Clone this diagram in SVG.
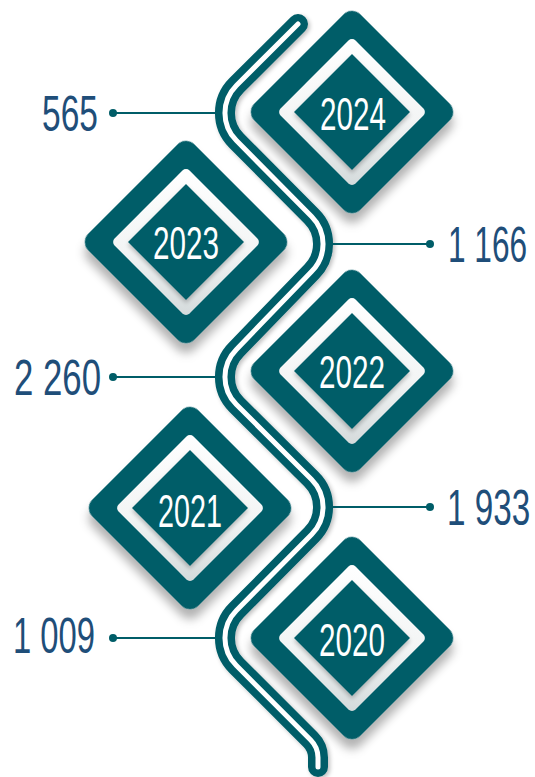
<svg xmlns="http://www.w3.org/2000/svg" width="535" height="777" viewBox="0 0 535 777">
<defs>
  <linearGradient id="fg" x1="0" y1="0" x2="1" y2="1">
    <stop offset="0" stop-color="#ffffff"/>
    <stop offset="0.55" stop-color="#f3f5f5"/>
    <stop offset="1" stop-color="#d4dadb"/>
  </linearGradient>
  <filter id="sh" x="-30%" y="-30%" width="170%" height="170%">
    <feGaussianBlur in="SourceAlpha" stdDeviation="5"/>
    <feOffset dx="7" dy="7" result="b"/>
    <feFlood flood-color="#000" flood-opacity="0.3"/>
    <feComposite in2="b" operator="in"/>
    <feMerge><feMergeNode/><feMergeNode in="SourceGraphic"/></feMerge>
  </filter>
  <filter id="sh2" x="-20%" y="-20%" width="140%" height="140%">
    <feGaussianBlur in="SourceAlpha" stdDeviation="2"/>
    <feOffset dx="2" dy="2" result="b"/>
    <feFlood flood-color="#000" flood-opacity="0.25"/>
    <feComposite in2="b" operator="in"/>
    <feMerge><feMergeNode/><feMergeNode in="SourceGraphic"/></feMerge>
  </filter>
  <path id="tubePath" d="M298,24 L236.4,85.4 A39,39 0 0 0 236.4,140.6 L311.6,216.4 A39,39 0 0 1 311.6,271.6 L236.4,349.4 A39,39 0 0 0 236.4,404.6 L311.6,479.4 A39,39 0 0 1 311.6,534.6 L236.4,610.4 A39,39 0 0 0 236.4,665.6 L310.7,739.9 A25,25 0 0 1 318,757.6 L318,767"/>
</defs>
<style>
  .outer { fill: #005d68; }
  .frame { fill: url(#fg); }
  .inner { fill: #005d68; }
  .year { font-family: "Liberation Sans", Arial, sans-serif; font-size: 46px; fill: #ffffff; text-anchor: middle; }
  .num { font-family: "Liberation Sans", Arial, sans-serif; font-size: 50px; fill: #1f4e79; }
  .conn line { stroke: #005d68; stroke-width: 1.8; }
  .conn circle { fill: #005d68; }
</style>
<rect width="535" height="777" fill="#ffffff"/>

<g id="timeline">
  <use href="#tubePath" fill="none" stroke="#005d68" stroke-width="20" stroke-linecap="round" stroke-linejoin="round" filter="url(#sh2)"/>
  <use href="#tubePath" fill="none" stroke="#ffffff" stroke-width="5" stroke-linecap="round" stroke-linejoin="round"/>
</g>

<g id="connectors" class="conn">
  <line x1="113" y1="113" x2="217" y2="113"/><circle cx="113" cy="113" r="4"/>
  <line x1="331" y1="244" x2="430" y2="244"/><circle cx="430" cy="244" r="4"/>
  <line x1="113" y1="377" x2="217" y2="377"/><circle cx="113" cy="377" r="4"/>
  <line x1="331" y1="507" x2="430" y2="507"/><circle cx="430" cy="507" r="4"/>
  <line x1="113" y1="638" x2="217" y2="638"/><circle cx="113" cy="638" r="4"/>
</g>

<g id="node-2024" transform="translate(352,112)">
  <rect class="outer" x="-75" y="-75" width="150" height="150" rx="12" transform="rotate(45)" filter="url(#sh)"/>
  <rect class="frame" x="-53" y="-53" width="106" height="106" rx="5" transform="rotate(45)"/>
  <rect class="inner" x="-41" y="-41" width="82" height="82" transform="rotate(45)" filter="url(#sh2)"/>
  <text class="year" x="1" y="18" textLength="66" lengthAdjust="spacingAndGlyphs">2024</text>
</g>
<g id="node-2023" transform="translate(186,242)">
  <rect class="outer" x="-75" y="-75" width="150" height="150" rx="12" transform="rotate(45)" filter="url(#sh)"/>
  <rect class="frame" x="-53" y="-53" width="106" height="106" rx="5" transform="rotate(45)"/>
  <rect class="inner" x="-41" y="-41" width="82" height="82" transform="rotate(45)" filter="url(#sh2)"/>
  <text class="year" x="0" y="17" textLength="66" lengthAdjust="spacingAndGlyphs">2023</text>
</g>
<g id="node-2022" transform="translate(352,371)">
  <rect class="outer" x="-75" y="-75" width="150" height="150" rx="12" transform="rotate(45)" filter="url(#sh)"/>
  <rect class="frame" x="-53" y="-53" width="106" height="106" rx="5" transform="rotate(45)"/>
  <rect class="inner" x="-41" y="-41" width="82" height="82" transform="rotate(45)" filter="url(#sh2)"/>
  <text class="year" x="0" y="17" textLength="66" lengthAdjust="spacingAndGlyphs">2022</text>
</g>
<g id="node-2021" transform="translate(190,508)">
  <rect class="outer" x="-75" y="-75" width="150" height="150" rx="12" transform="rotate(45)" filter="url(#sh)"/>
  <rect class="frame" x="-53" y="-53" width="106" height="106" rx="5" transform="rotate(45)"/>
  <rect class="inner" x="-41" y="-41" width="82" height="82" transform="rotate(45)" filter="url(#sh2)"/>
  <text class="year" x="0" y="19" textLength="64" lengthAdjust="spacingAndGlyphs">2021</text>
</g>
<g id="node-2020" transform="translate(352,638)">
  <rect class="outer" x="-75" y="-75" width="150" height="150" rx="12" transform="rotate(45)" filter="url(#sh)"/>
  <rect class="frame" x="-53" y="-53" width="106" height="106" rx="5" transform="rotate(45)"/>
  <rect class="inner" x="-41" y="-41" width="82" height="82" transform="rotate(45)" filter="url(#sh2)"/>
  <text class="year" x="0" y="18" textLength="66" lengthAdjust="spacingAndGlyphs">2020</text>
</g>

<g id="labels">
  <text id="label-2024" class="num" transform="translate(98,131) scale(0.67,1)" text-anchor="end">565</text>
  <text id="label-2023" class="num" transform="translate(448,262) scale(0.632,1)">1 166</text>
  <text id="label-2022" class="num" transform="translate(101,395) scale(0.696,1)" text-anchor="end">2 260</text>
  <text id="label-2021" class="num" transform="translate(447,525) scale(0.665,1)">1 933</text>
  <text id="label-2020" class="num" transform="translate(95,653) scale(0.656,1)" text-anchor="end">1 009</text>
</g>
</svg>
